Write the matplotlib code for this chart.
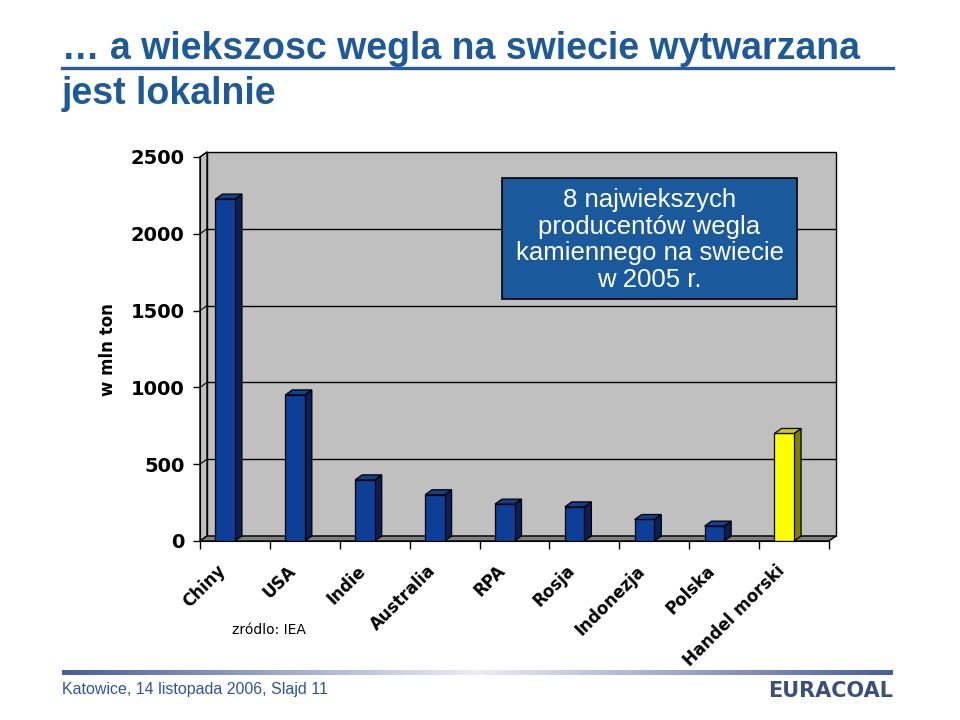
import numpy as np
import matplotlib
matplotlib.use("Agg")
import matplotlib.pyplot as plt
import matplotlib.transforms as mtrans
from matplotlib.patches import Polygon, Rectangle
from matplotlib.colors import LinearSegmentedColormap

# ---- data ----
categories = ["Chiny", "USA", "Indie", "Australia", "RPA", "Rosja",
              "Indonezja", "Polska", "Handel morski"]
values = [2226, 951, 398, 301, 240, 222, 140, 97, 700]
yticks = [0, 500, 1000, 1500, 2000, 2500]
title_lines = ["\u2026 a wiekszosc wegla na swiecie wytwarzana", "jest lokalnie"]
box_text = "8 najwiekszych\nproducent\u00f3w wegla\nkamiennego na swiecie\nw 2005 r."
ylabel = "w mln ton"
source = "zr\u00f3dlo: IEA"
footer = "Katowice, 14 listopada 2006, Slajd 11"
logo = "EURACOAL"

# colours
front_cols = ["#0d3f98"] * 8 + ["#ffff00"]
side_cols = ["#0b1f57"] * 8 + ["#808000"]
top_cols = ["#133f8c"] * 8 + ["#cccc00"]
wall = "#c0c0c0"
floor = "#808080"
blue_txt = "#1f5a98"

W, H = 960, 720
fig = plt.figure(figsize=(9.6, 7.2), dpi=100)
fig.patch.set_facecolor("white")

# axes = front plane of the 3D chart
x0, x1, yb, yt = 200, 829, 541, 157
ax = fig.add_axes([x0 / W, 1 - yb / H, (x1 - x0) / W, (yb - yt) / H])
ax.set_facecolor("none")
n = len(categories)
ymax = 2500
ax.set_xlim(0, n)
ax.set_ylim(0, ymax)

# depth offset in data units (7 px right, 5 px up)
dx = 7.0 / ((x1 - x0) / n)
dy = 5.0 / ((yb - yt) / ymax)

# back wall
ax.add_patch(Rectangle((dx, dy), n, ymax, facecolor=wall, edgecolor="black",
                       lw=1.0, zorder=0, clip_on=False))
# left wall
ax.add_patch(Polygon([(0, 0), (dx, dy), (dx, ymax + dy), (0, ymax)], closed=True,
                     facecolor=wall, edgecolor="black", lw=1.0, zorder=1, clip_on=False))
# gridlines on back & left walls
for v in yticks[1:-1]:
    ax.plot([dx, n + dx], [v + dy, v + dy], color="black", lw=1.0, zorder=0.5, clip_on=False)
for v in yticks:
    ax.plot([0, dx], [v, v + dy], color="black", lw=0.8, zorder=1.5, clip_on=False)
# floor
ax.add_patch(Polygon([(0, 0), (n, 0), (n + dx, dy), (dx, dy)], closed=True,
                     facecolor=floor, edgecolor="black", lw=1.0, zorder=2, clip_on=False))

# bars
lefts = np.arange(n) + 0.22
bw = 0.28
bars = ax.bar(lefts, values, width=bw, align="edge", color=front_cols,
              edgecolor="black", lw=0.9, zorder=4)
for i, b in enumerate(bars):
    bx, by, bwid, bh = b.get_x(), b.get_y(), b.get_width(), b.get_height()
    side = [(bx + bwid, by), (bx + bwid + dx, by + dy), (bx + bwid + dx, bh + dy), (bx + bwid, bh)]
    top = [(bx, bh), (bx + bwid, bh), (bx + bwid + dx, bh + dy), (bx + dx, bh + dy)]
    ax.add_patch(Polygon(side, closed=True, facecolor=side_cols[i], edgecolor="black",
                         lw=0.9, zorder=3.9, clip_on=False))
    ax.add_patch(Polygon(top, closed=True, facecolor=top_cols[i], edgecolor="black",
                         lw=0.9, zorder=4.1, clip_on=False))

# spines & ticks
for s in ["top", "right"]:
    ax.spines[s].set_visible(False)
ax.spines["left"].set_zorder(5)
ax.spines["bottom"].set_zorder(5)
ax.set_yticks(yticks)
ax.set_yticklabels([str(v) for v in yticks], fontsize=14, fontweight="bold",
                   family="DejaVu Sans")
ax.tick_params(axis="y", direction="out", length=5, width=1, pad=6)
ax.set_xticks(np.arange(n + 1))
ax.set_xticklabels([])
ax.tick_params(axis="x", direction="out", length=6, width=1)

off = mtrans.ScaledTranslation(-0.12, -0.27, fig.dpi_scale_trans)
tr = ax.get_xaxis_transform() + off
for i, c in enumerate(categories):
    ax.text(i + 0.5, 0, c, transform=tr, rotation=45, rotation_mode="anchor",
            ha="right", va="center", fontsize=12, fontweight="bold",
            family="DejaVu Sans", color="black")

# y label
fig.text(108 / W, 1 - 350 / H, ylabel, rotation=90, ha="center", va="center",
         fontsize=12, fontweight="bold", family="DejaVu Sans")

# source
fig.text(232 / W, 1 - 630 / H, source, ha="left", va="center", fontsize=10,
         family="DejaVu Sans")

# info box
fig.patches.append(Rectangle((502 / W, 1 - 299 / H), 295 / W, 121 / H,
                             transform=fig.transFigure, facecolor="#1a5a9c",
                             edgecolor="black", lw=1.2, zorder=6))
fig.text(649.5 / W, 1 - 240 / H, box_text, ha="center", va="center",
         fontsize=18.5, color="white", family="Liberation Sans",
         linespacing=1.14, zorder=7)

# title
fig.text(62 / W, 1 - 59 / H, title_lines[0], ha="left", va="baseline",
         fontsize=27, fontweight="bold", color=blue_txt, family="Liberation Sans")
fig.text(62 / W, 1 - 104 / H, title_lines[1], ha="left", va="baseline",
         fontsize=27, fontweight="bold", color=blue_txt, family="Liberation Sans")
fig.add_artist(plt.Line2D([62 / W, 893 / W], [1 - 68 / H, 1 - 68 / H],
                          transform=fig.transFigure, color="#2b5c9c", lw=2.4))

# footer gradient line
gax = fig.add_axes([62 / W, 1 - 675 / H, 831 / W, 5 / H])
cmap = LinearSegmentedColormap.from_list("g", [(0, "#4a5e9e"), (0.5, "#ececf2"), (1, "#4a5e9e")])
gax.imshow(np.linspace(0, 1, 256)[None, :], aspect="auto", cmap=cmap)
gax.axis("off")

fig.text(62 / W, 1 - 694 / H, footer, ha="left", va="baseline", fontsize=11.5,
         color="#2f5597", family="Liberation Sans")
fig.text(893 / W, 1 - 697 / H, logo, ha="right", va="baseline", fontsize=15,
         fontweight="bold", color="#3c4f78", family="DejaVu Sans")

fig.savefig("out.png", dpi=100)
